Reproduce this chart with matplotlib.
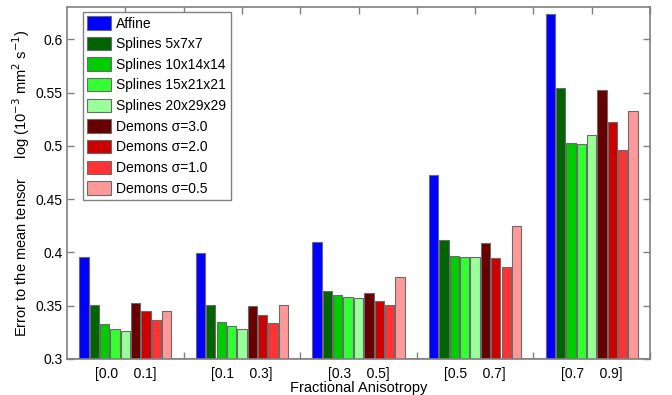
import matplotlib
matplotlib.use("Agg")
import matplotlib.pyplot as plt
import numpy as np

plt.rcParams['font.family'] = ['Liberation Sans', 'DejaVu Sans']

groups = ["[0.0    0.1]", "[0.1    0.3]", "[0.3    0.5]", "[0.5    0.7]", "[0.7    0.9]"]
methods = ["Affine", "Splines 5x7x7", "Splines 10x14x14", "Splines 15x21x21",
           "Splines 20x29x29", "Demons σ=3.0", "Demons σ=2.0", "Demons σ=1.0",
           "Demons σ=0.5"]
colors = ["#0000FF", "#006400", "#00CC00", "#33FF33", "#99FF99",
          "#660000", "#CC0000", "#FF3333", "#FF9999"]

affine   = [0.396, 0.399, 0.410, 0.473, 0.624]
spl_5    = [0.351, 0.351, 0.364, 0.412, 0.554]
spl_10   = [0.333, 0.335, 0.360, 0.397, 0.503]
spl_15   = [0.328, 0.331, 0.358, 0.396, 0.502]
spl_20   = [0.326, 0.328, 0.357, 0.396, 0.510]
dem_30   = [0.353, 0.350, 0.362, 0.409, 0.552]
dem_20   = [0.345, 0.341, 0.354, 0.395, 0.522]
dem_10   = [0.337, 0.334, 0.351, 0.386, 0.496]
dem_05   = [0.345, 0.351, 0.377, 0.425, 0.533]
series = [affine, spl_5, spl_10, spl_15, spl_20, dem_30, dem_20, dem_10, dem_05]

yticks = [0.3, 0.35, 0.4, 0.45, 0.5, 0.55, 0.6]
yticklabels = ["0.3", "0.35", "0.4", "0.45", "0.5", "0.55", "0.6"]

fig = plt.figure(figsize=(6.72, 3.95), dpi=100)
ax = fig.add_axes([67/672, 36/395, 583/672, 351.7/395])

x = np.arange(1, len(groups) + 1)
n = len(series)
slot = 0.8 / n
bw = slot * 0.9
base = 0.3
for i, (vals, c, lab) in enumerate(zip(series, colors, methods)):
    off = (i - (n - 1) / 2) * slot
    ax.bar(x + off, np.array(vals) - base, width=bw, bottom=base, color=c,
           edgecolor="#6a6a6a", linewidth=0.8, label=lab, zorder=2)

ax.axhline(base, color="#a0a0a0", linewidth=1.5, zorder=1.5)

ax.set_xlim(0.5, 5.5)
ax.set_ylim(0.3, 0.63)
ax.set_yticks(yticks)
ax.set_yticklabels(yticklabels)
ax.set_xticks(np.arange(1.0, 5.51, 0.5))
xl = []
for k in np.arange(1.0, 5.51, 0.5):
    xl.append(groups[int(k) - 1] if float(k).is_integer() else "")
ax.set_xticklabels(xl)
ax.set_axisbelow(True)

ax.tick_params(axis='both', direction='in', length=5, width=1, color='#808080',
               labelsize=10, top=True, right=True)
ax.tick_params(axis='x', pad=6)
ax.tick_params(axis='y', pad=3)
for s in ax.spines.values():
    s.set_color('#808080')
    s.set_linewidth(1.2)

ax.set_xlabel("Fractional Anisotropy", fontsize=10.5, labelpad=0)
ax.set_ylabel("Error to the mean tensor     log (10$^{-3}$ mm$^{2}$ s$^{-1}$)",
              fontsize=10.5, labelpad=3)

leg = ax.legend(loc='upper left', bbox_to_anchor=(16/583, 1 - 4.7/351.7),
                borderaxespad=0, fontsize=10, fancybox=False, framealpha=1,
                edgecolor='#808080', handlelength=1.75, handleheight=1.1,
                labelspacing=0.45, handletextpad=0.35, borderpad=0.3)
leg.get_frame().set_linewidth(1.0)

fig.savefig("out.png", dpi=100)
